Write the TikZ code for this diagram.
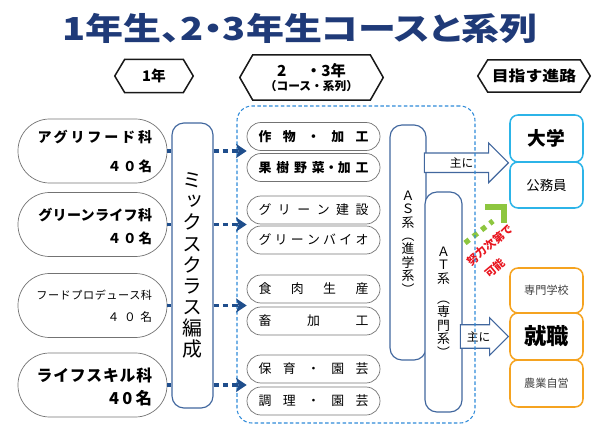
\documentclass[tikz,border=0pt]{standalone}
\usepackage{fontspec}
\setmainfont{Noto Sans CJK JP}
\newfontfamily\vertfont[RawFeature=+vert]{Noto Sans CJK JP}
\usetikzlibrary{calc,arrows.meta,shapes.arrows}
\definecolor{titleblue}{HTML}{1F3A78}
\definecolor{frameblue}{HTML}{41679E}
\definecolor{dotblue}{HTML}{1F4E8C}
\definecolor{dashblue}{HTML}{2E8AD8}
\definecolor{skyline}{HTML}{2CB4E8}
\definecolor{orangeline}{HTML}{F5A320}
\definecolor{grn}{HTML}{8DC63F}
\definecolor{redtxt}{HTML}{E8141E}
\def\pix{0.03cm}
\def\hexframe(#1)(#2){\draw[line width=1.3pt, color=black!90] (#1.west) -- ([xshift=#2]#1.north west) -- ([xshift=-#2]#1.north east) -- (#1.east) -- ([xshift=-#2]#1.south east) -- ([xshift=#2]#1.south west) -- cycle;}
\def\spreadtext#1{\makebox[3.3cm]{#1}}

\begin{document}
\begin{tikzpicture}[x=0.03cm, y=-0.03cm,
		hdr/.style={inner sep=0pt, font=\bfseries\fontsize{12.5}{13}\selectfont},
		dept/.style={draw=black!55, line width=0.6pt, rounded corners=0.95cm, minimum width=4.47cm, minimum height=1.92cm, inner sep=0pt},
		deptname/.style={anchor=east, inner sep=0pt},
		pill/.style={draw=black!55, line width=0.6pt, rounded corners=0.42cm, minimum width=3.99cm, minimum height=0.84cm, inner sep=0pt, font=\fontsize{11}{12}\selectfont},
		series/.style={draw=frameblue, line width=1pt, rounded corners=0.36cm, inner sep=0pt, align=center},
		stub/.style={dotblue, line width=3.4pt, dash pattern=on 4.5pt off 3.5pt},
		dotarrow/.style={stub, -{Stealth[length=9pt, width=12pt, inset=2pt]}},
		mainarrow/.style={single arrow, draw=frameblue, line width=1pt, fill=white, single arrow tip angle=90, anchor=tip, font=\fontsize{10}{10}\selectfont},
		goal/.style={line width=1.3pt, rounded corners=0.24cm, minimum width=2.19cm, inner sep=0pt},
		hint/.style={text=redtxt, inner sep=0pt, font=\bfseries\fontsize{9.5}{10}\selectfont, rotate=40}]
		%%%%% START %%%%%
		\useasboundingbox (0,0) rectangle (593,428);
		
		\node[text=titleblue, font=\bfseries\fontsize{27}{27}\selectfont\addfontfeature{RawFeature=+palt, FakeStretch=1.2}] (title) at (300,28) {1年生、2・3年生コースと系列};
		
		% headers
		\node[hdr, minimum width=2.34cm, minimum height=0.99cm] (year1) at (154,76) {1年};
		\node[hdr, minimum width=4.29cm, minimum height=1.35cm, align=center, font=\bfseries\fontsize{13}{13}\selectfont] (year23) at (311.5,77.5) {2\hspace{1.3em}・3年\\[-1pt]{\fontsize{10}{11}\selectfont（コース・系列）}};
		\node[hdr, minimum width=3.36cm, minimum height=0.96cm, font=\bfseries\fontsize{12.5}{13}\selectfont\addfontfeature{FakeStretch=1.15}] (goalhdr) at (534,76) {目指す進路};
		\hexframe(year1)(0.3cm)
		\hexframe(year23)(0.39cm)
		\hexframe(goalhdr)(0.3cm)
		
		% 1st year departments
		\node[dept] (agri) at (92.5,151) {};
		\node[deptname, font=\bfseries\fontsize{12}{12}\selectfont\addfontfeature{LetterSpace=20}] (agriname) at ([xshift=-15*\pix, yshift=14*\pix]agri.east) {アグリフード科};
		\node[deptname, font=\bfseries\fontsize{11.5}{12}\selectfont\addfontfeature{LetterSpace=15}] (agrinum) at ([xshift=-15*\pix, yshift=-15*\pix]agri.east) {４０名};
		
		\node[dept] (green) at (92.5,224.5) {};
		\node[deptname, font=\bfseries\fontsize{12}{12}\selectfont\addfontfeature{LetterSpace=2}] (greenname) at ([xshift=-15*\pix, yshift=9.5*\pix]green.east) {グリーンライフ科};
		\node[deptname, font=\bfseries\fontsize{11.5}{12}\selectfont\addfontfeature{LetterSpace=15}] (greennum) at ([xshift=-15*\pix, yshift=-13.5*\pix]green.east) {４０名};
		
		\node[dept] (food) at (92.5,305.5) {};
		\node[deptname, font=\fontsize{9.5}{10}\selectfont\addfontfeature{LetterSpace=5}] (foodname) at ([xshift=-15*\pix, yshift=10.5*\pix]food.east) {フードプロデュース科};
		\node[deptname, font=\fontsize{10}{10}\selectfont\addfontfeature{LetterSpace=40}] (foodnum) at ([xshift=-15*\pix, yshift=-11.5*\pix]food.east) {４０名};
		
		\node[dept] (life) at (92.5,385) {};
		\node[deptname, font=\bfseries\fontsize{13.5}{14}\selectfont\addfontfeature{LetterSpace=5}] (lifename) at ([xshift=-15*\pix, yshift=10*\pix]life.east) {ライフスキル科};
		\node[deptname, font=\bfseries\fontsize{14}{14}\selectfont\addfontfeature{LetterSpace=20}] (lifenum) at ([xshift=-15*\pix, yshift=-13*\pix]life.east) {40名};
		
		\node[series, minimum width=1.23cm, minimum height=8.55cm, font=\vertfont\fontsize{17}{18}\selectfont] (mix) at (192.5,265.5) {ミ\\ッ\\ク\\ス\\ク\\ラ\\ス\\編\\成};
		
		% courses
		\node[pill, font=\bfseries\fontsize{11}{12}\selectfont] (sakumotsu) at (313.5,136.5) {\spreadtext{作\hfill 物\hfill ・\hfill 加\hfill 工}};
		\node[pill, font=\bfseries\fontsize{11}{12}\selectfont] (kaju) at (313.5,167.5) {\spreadtext{果\hfill 樹\hfill 野\hfill 菜・加\hfill 工}};
		\node[pill] (kensetsu) at (313.5,210) {\spreadtext{グ\hfill リ\hfill ー\hfill ン\hfill 建\hfill 設}};
		\node[pill] (bio) at (313.5,240) {\spreadtext{グ\hfill リ\hfill ー\hfill ン\hfill バ\hfill イ\hfill オ}};
		\node[pill] (shokuniku) at (313.5,289) {\spreadtext{食\hfill 肉\hfill 生\hfill 産}};
		\node[pill] (chikusan) at (313.5,321) {\spreadtext{畜\hfill 加\hfill 工}};
		\node[pill] (hoiku) at (313.5,369) {\spreadtext{保\hfill 育\hfill ・\hfill 園\hfill 芸}};
		\node[pill] (chouri) at (313.5,401) {\spreadtext{調\hfill 理\hfill ・\hfill 園\hfill 芸}};
		
		\node[series, minimum width=1.08cm, minimum height=7.05cm, font=\vertfont\fontsize{11}{11.5}\selectfont] (asbox) at (408,242.5) {Ａ\\Ｓ\\系\\︵\\進\\学\\系\\︶};
		\node[series, fill=white, minimum width=1.11cm, minimum height=6.6cm, font=\vertfont\fontsize{11}{11.5}\selectfont] (atbox) at (443.5,302) {Ａ\\Ｔ\\系\\[6pt]︵\\専\\門\\系\\︶};
		
		% careers
		\node[goal, draw=skyline, minimum height=1.41cm, font=\bfseries\fontsize{16}{16}\selectfont] (daigaku) at (546.5,138.5) {大学};
		\node[goal, draw=skyline, minimum height=1.38cm, font=\fontsize{11.5}{12}\selectfont] (koumuin) at (546.5,185) {公務員};
		\node[goal, draw=orangeline, minimum height=1.35cm, font=\fontsize{9.5}{10}\selectfont, text=black!75] (senmon) at (546.5,290.5) {専門学校};
		\node[goal, draw=orangeline, minimum height=1.41cm, font=\bfseries\fontsize{19}{19}\selectfont] (shuushoku) at (546.5,336.5) {就職};
		\node[goal, draw=orangeline, minimum height=1.41cm, font=\fontsize{9.5}{10}\selectfont, text=black!75] (jiei) at (546.5,383.5) {農業自営};
		
		\node[mainarrow, minimum height=2.52cm, inner ysep=0.12cm, single arrow head extend=0.3cm] (mainup) at (daigaku.south west) {主に};
		\node[mainarrow, minimum height=1.44cm, inner ysep=0.18cm, single arrow head extend=0.21cm] (maindown) at (shuushoku.west) {主に};
		
		% green hint
		\coordinate (grnstart) at (465,243);
		\coordinate (grnend) at (493,221);
		\draw[grn, line width=4.5pt, dash pattern=on 4.5pt off 4.5pt] (grnstart) -- (grnend);
		\draw[grn, line width=5pt] (485,207) -- (504,207) -- (504,223);
		\node[hint] (effort) at (490,245) {努力次第で};
		\node[hint] (possible) at (495,268) {可能};
		
		\node[draw=dashblue, line width=0.9pt, dash pattern=on 3pt off 2pt, rounded corners=0.45cm, minimum width=7.14cm, minimum height=9.51cm] (courses) at (356,264.5) {};
		
		% dotted links
		\draw[stub] (agri.east) -- (agri.east -| mix.west);
		\draw[dotarrow] (agri.east -| mix.east) -- (agri.east -| sakumotsu.west);
		\draw[stub] (green.east) -- (green.east -| mix.west);
		\draw[dotarrow] (green.east -| mix.east) -- (green.east -| kensetsu.west);
		\draw[stub] (food.east) -- (food.east -| mix.west);
		\draw[dotarrow] (food.east -| mix.east) -- (food.east -| shokuniku.west);
		\draw[stub] (life.east) -- (life.east -| mix.west);
		\draw[dotarrow] (life.east -| mix.east) -- (life.east -| hoiku.west);
		
		%%%%% END %%%%%
\end{tikzpicture}
\end{document}
